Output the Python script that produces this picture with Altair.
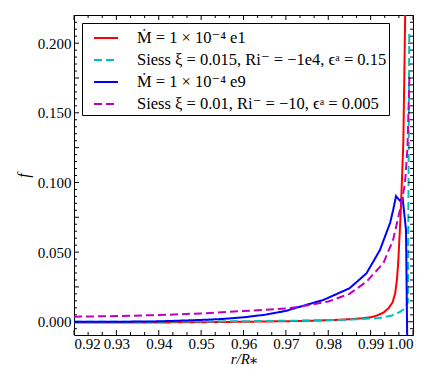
import altair as alt
import pandas as pd

labels = [
    "Ṁ = 1 × 10⁻⁴ e1",
    "Siess ξ = 0.015, Ri⁻ = −1e4, ϵᵃ = 0.15",
    "Ṁ = 1 × 10⁻⁴ e9",
    "Siess ξ = 0.01, Ri⁻ = −10, ϵᵃ = 0.005",
]
colors = ["#ff0000", "#00bfbf", "#0000ff", "#bf00bf"]
dashes = [[1, 0], [8, 4], [1, 0], [8, 4]]

red_r = [0.920, 0.930, 0.940, 0.950, 0.960, 0.970, 0.975, 0.980, 0.985, 0.988, 0.9905, 0.9915,
         0.993, 0.9942, 0.9952, 0.9958, 0.9962, 0.9965, 0.9971, 0.99771, 0.99795, 0.9982, 0.9986]
red_f = [-0.0006, -0.0006, -0.0005, -0.0003, 0.0000, 0.0004, 0.0007, 0.0011, 0.0018, 0.0025, 0.0035, 0.0045,
         0.0065, 0.0096, 0.014, 0.0206, 0.030, 0.042, 0.078, 0.128, 0.176, 0.23, 0.35]

cyan_r = [0.920, 0.930, 0.940, 0.950, 0.960, 0.970, 0.975, 0.980, 0.985, 0.988, 0.9922, 0.995,
          0.9969, 0.998, 0.9988, 0.99912]
cyan_f = [0.0, 0.0, 0.0001, 0.0002, 0.0004, 0.0007, 0.0009, 0.0011, 0.0016, 0.002, 0.0027, 0.0045,
          0.007, 0.0095, 0.014, 0.207]

blue_r = [0.920, 0.930, 0.940, 0.950, 0.955, 0.960, 0.965, 0.970, 0.9733, 0.9788, 0.985, 0.989,
          0.9922, 0.9946, 0.9953, 0.9960, 0.9969, 0.99756, 0.99835, 0.99866]
blue_f = [0.0, 0.0, 0.0003, 0.0013, 0.002, 0.0032, 0.005, 0.0078, 0.0108, 0.0156, 0.024, 0.0347,
          0.0515, 0.071, 0.080, 0.0902, 0.0869, 0.0886, 0.0658, -0.02]

mag_r = [0.920, 0.930, 0.940, 0.950, 0.960, 0.970, 0.9733, 0.980, 0.985, 0.989, 0.993, 0.9953,
         0.9969, 0.9981, 0.9987, 0.99915]
mag_f = [0.0036, 0.0041, 0.0048, 0.0060, 0.0077, 0.0096, 0.0108, 0.0145, 0.020, 0.0287, 0.042, 0.0587,
         0.080, 0.099, 0.125, 0.175]

x_major = [0.92, 0.93, 0.94, 0.95, 0.96, 0.97, 0.98, 0.99, 1.00]
x_minor = [round(0.92 + i * 0.01 / 3, 5) for i in range(25) if i % 3 != 0]
y_major = [0.0, 0.025, 0.05, 0.075, 0.1, 0.125, 0.15, 0.175, 0.2]
y_minor = [round(-0.005 + i * 0.005, 4) for i in range(45) if i % 5 != 1]

W, H = 339, 320
XDOM = [0.92, 1.0]
YDOM = [-0.0095, 0.2202]
FONT = "'Liberation Serif', 'DejaVu Serif', serif"

rows = []
for name, rr, ff in zip(labels, [red_r, cyan_r, blue_r, mag_r], [red_f, cyan_f, blue_f, mag_f]):
    for i, (a, b) in enumerate(zip(rr, ff)):
        rows.append({"series": name, "r": a, "f": b, "i": i})
df = pd.DataFrame(rows)

xs = alt.Scale(domain=XDOM, nice=False, zero=False)
ys = alt.Scale(domain=YDOM, nice=False, zero=False)

lines = alt.Chart(df).mark_line(strokeWidth=2, clip=True).encode(
    x=alt.X("r:Q", scale=xs, axis=alt.Axis(values=x_major, format=".2f", ticks=False, domain=False,
                                           grid=False, labelFont=FONT, labelFontSize=15, labelPadding=1,
                                           labelColor="black", title="r/R⁎", titleFont=FONT,
                                           titleFontSize=15, titleFontStyle="italic", titleFontWeight="normal",
                                           titlePadding=0, titleColor="black")),
    y=alt.Y("f:Q", scale=ys, axis=alt.Axis(values=y_major, format=".3f", ticks=False, domain=False,
                                           grid=False, labelFont=FONT, labelFontSize=15, labelPadding=3,
                                           labelColor="black", title="f", titleFont=FONT,
                                           titleFontSize=16, titleFontStyle="italic", titleFontWeight="normal",
                                           titlePadding=6, titleColor="black")),
    color=alt.Color("series:N", scale=alt.Scale(domain=labels, range=colors),
                    legend=alt.Legend(title=None)),
    strokeDash=alt.StrokeDash("series:N", scale=alt.Scale(domain=labels, range=dashes),
                              legend=alt.Legend(title=None)),
    order="i:Q",
)

def xticks(vals, length):
    d = pd.DataFrame({"v": vals})
    bot = alt.Chart(d).mark_rule(color="black", strokeWidth=1).encode(
        x=alt.X("v:Q", scale=xs), y=alt.value(H), y2=alt.value(H - length))
    top = alt.Chart(d).mark_rule(color="black", strokeWidth=1).encode(
        x=alt.X("v:Q", scale=xs), y=alt.value(0), y2=alt.value(length))
    return [bot, top]

def yticks(vals, length):
    d = pd.DataFrame({"v": vals})
    left = alt.Chart(d).mark_rule(color="black", strokeWidth=1).encode(
        y=alt.Y("v:Q", scale=ys), x=alt.value(0), x2=alt.value(length))
    right = alt.Chart(d).mark_rule(color="black", strokeWidth=1).encode(
        y=alt.Y("v:Q", scale=ys), x=alt.value(W), x2=alt.value(W - length))
    return [left, right]

layers = [lines] + xticks(x_major, 5) + xticks(x_minor, 3) + yticks(y_major, 5) + yticks(y_minor, 3)

chart = alt.layer(*layers).properties(
    width=W, height=H,
    autosize=alt.AutoSizeParams(type="none"),
    padding={"left": 66, "top": 7, "right": 15, "bottom": 43},
).configure_view(
    stroke="black", strokeWidth=1
).configure_legend(
    orient="none", legendX=8, legendY=8, padding=2, strokeColor="black", strokeWidth=1,
    fillColor="white", symbolType="stroke", symbolSize=576, symbolStrokeWidth=2,
    symbolOffset=9, labelOffset=18, labelFont=FONT, labelFontSize=16.5, labelColor="black",
    rowPadding=0, labelLimit=400, cornerRadius=0,
)

chart.save("out.html", embed_options={"renderer": "svg", "actions": False})
